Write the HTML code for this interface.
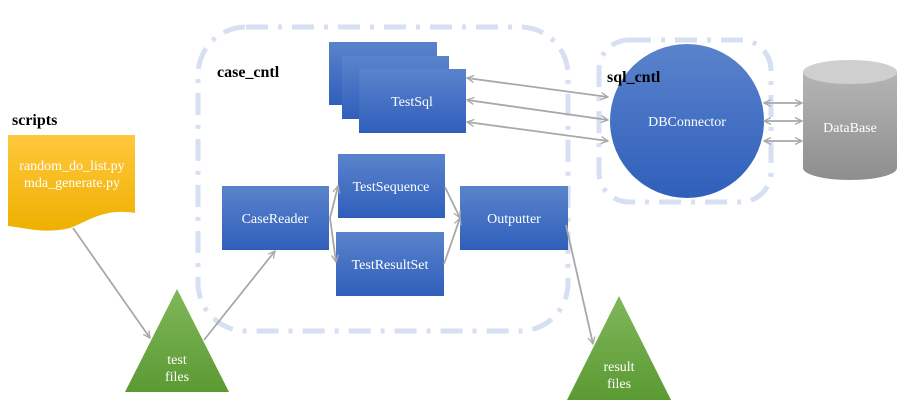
<!DOCTYPE html>
<html><head><meta charset="utf-8"><style>
html,body{margin:0;padding:0;background:#fff;width:910px;height:416px;overflow:hidden}
text{font-family:"Liberation Serif",serif}
</style></head><body>
<svg width="910" height="416" viewBox="0 0 910 416" xmlns="http://www.w3.org/2000/svg">
<defs>
<linearGradient id="bl" x1="0" y1="0" x2="0" y2="1"><stop offset="0" stop-color="#5b83cc"/><stop offset="1" stop-color="#2f5fbb"/></linearGradient>
<linearGradient id="gr" x1="0" y1="0" x2="0" y2="1"><stop offset="0" stop-color="#80b75a"/><stop offset="1" stop-color="#5b9a33"/></linearGradient>
<linearGradient id="ye" x1="0" y1="0" x2="0" y2="1"><stop offset="0" stop-color="#ffc83d"/><stop offset="1" stop-color="#eeb000"/></linearGradient>
<linearGradient id="gy" x1="0" y1="0" x2="0" y2="1"><stop offset="0" stop-color="#b5b5b5"/><stop offset="1" stop-color="#8e8e8e"/></linearGradient>
<marker id="ah" markerWidth="8" markerHeight="8" refX="7" refY="4" orient="auto-start-reverse" markerUnits="userSpaceOnUse"><path d="M0,0.5 L7,4 L0,7.5" fill="none" stroke="#a8a8a8" stroke-width="1.3"/></marker>
</defs>
<rect x="198" y="27" width="370" height="304" rx="48" fill="none" stroke="#d6e0f2" stroke-width="5" stroke-dasharray="22,10,4,10"/>
<rect x="599" y="40" width="172" height="162" rx="30" fill="none" stroke="#d6e0f2" stroke-width="5" stroke-dasharray="22,10,4,10"/>
<text x="217" y="77" font-size="16" font-weight="bold">case_cntl</text>
<rect x="329" y="42" width="108" height="63" fill="url(#bl)"/>
<rect x="342" y="56" width="107" height="63" fill="url(#bl)"/>
<rect x="359" y="69" width="107" height="64" fill="url(#bl)"/>
<text x="412" y="106" font-size="14" fill="#fff" text-anchor="middle">TestSql</text>
<rect x="338" y="154" width="107" height="64" fill="url(#bl)"/>
<text x="391" y="191" font-size="14" fill="#fff" text-anchor="middle">TestSequence</text>
<rect x="336" y="232" width="108" height="64" fill="url(#bl)"/>
<text x="390" y="269" font-size="14" fill="#fff" text-anchor="middle">TestResultSet</text>
<rect x="222" y="186" width="107" height="64" fill="url(#bl)"/>
<text x="275" y="223" font-size="14" fill="#fff" text-anchor="middle">CaseReader</text>
<rect x="460" y="186" width="108" height="64" fill="url(#bl)"/>
<text x="514" y="223" font-size="14" fill="#fff" text-anchor="middle">Outputter</text>
<circle cx="687" cy="121" r="77" fill="url(#bl)"/>
<text x="687" y="126" font-size="14" fill="#fff" text-anchor="middle">DBConnector</text>
<text x="607" y="82" font-size="16" font-weight="bold">sql_cntl</text>
<path d="M803,72 L803,168 A47,12 0 0 0 897,168 L897,72 Z" fill="url(#gy)"/>
<ellipse cx="850" cy="72" rx="47" ry="12" fill="#cfcfcf"/>
<text x="850" y="132" font-size="14" fill="#fff" text-anchor="middle">DataBase</text>
<text x="12" y="125" font-size="16" font-weight="bold">scripts</text>
<path d="M8,135 L135,135 L135,213 C105,208 90,220 70,228 C45,234 25,228 8,226 Z" fill="url(#ye)"/>
<text x="72" y="170" font-size="14" fill="#fff" text-anchor="middle">random_do_list.py</text>
<text x="72" y="187" font-size="14" fill="#fff" text-anchor="middle">mda_generate.py</text>
<path d="M177,289 L229,392 L125,392 Z" fill="url(#gr)"/>
<text x="177" y="364" font-size="14" fill="#fff" text-anchor="middle">test</text>
<text x="177" y="381" font-size="14" fill="#fff" text-anchor="middle">files</text>
<path d="M619,296 L671,400 L567,400 Z" fill="url(#gr)"/>
<text x="619" y="371" font-size="14" fill="#fff" text-anchor="middle">result</text>
<text x="619" y="388" font-size="14" fill="#fff" text-anchor="middle">files</text>
<g stroke="#a8a8a8" stroke-width="1.8" fill="none">
<line x1="73" y1="228" x2="150" y2="338" marker-end="url(#ah)"/>
<line x1="204" y1="340" x2="275" y2="251" marker-end="url(#ah)"/>
<line x1="330" y1="218" x2="338" y2="186" marker-end="url(#ah)"/>
<line x1="330" y1="218" x2="336" y2="262" marker-end="url(#ah)"/>
<line x1="445" y1="187" x2="460" y2="218" marker-end="url(#ah)"/>
<line x1="444" y1="264" x2="460" y2="218" marker-end="url(#ah)"/>
<line x1="566" y1="225" x2="593" y2="344" marker-end="url(#ah)"/>
<line x1="467" y1="78" x2="608" y2="97" marker-start="url(#ah)" marker-end="url(#ah)"/>
<line x1="467" y1="100" x2="608" y2="120" marker-start="url(#ah)" marker-end="url(#ah)"/>
<line x1="467" y1="122" x2="608" y2="141" marker-start="url(#ah)" marker-end="url(#ah)"/>
<line x1="764" y1="103" x2="802" y2="103" marker-start="url(#ah)" marker-end="url(#ah)"/>
<line x1="764" y1="121" x2="802" y2="121" marker-start="url(#ah)" marker-end="url(#ah)"/>
<line x1="764" y1="141" x2="802" y2="141" marker-start="url(#ah)" marker-end="url(#ah)"/>
</g>
</svg>
</body></html>
